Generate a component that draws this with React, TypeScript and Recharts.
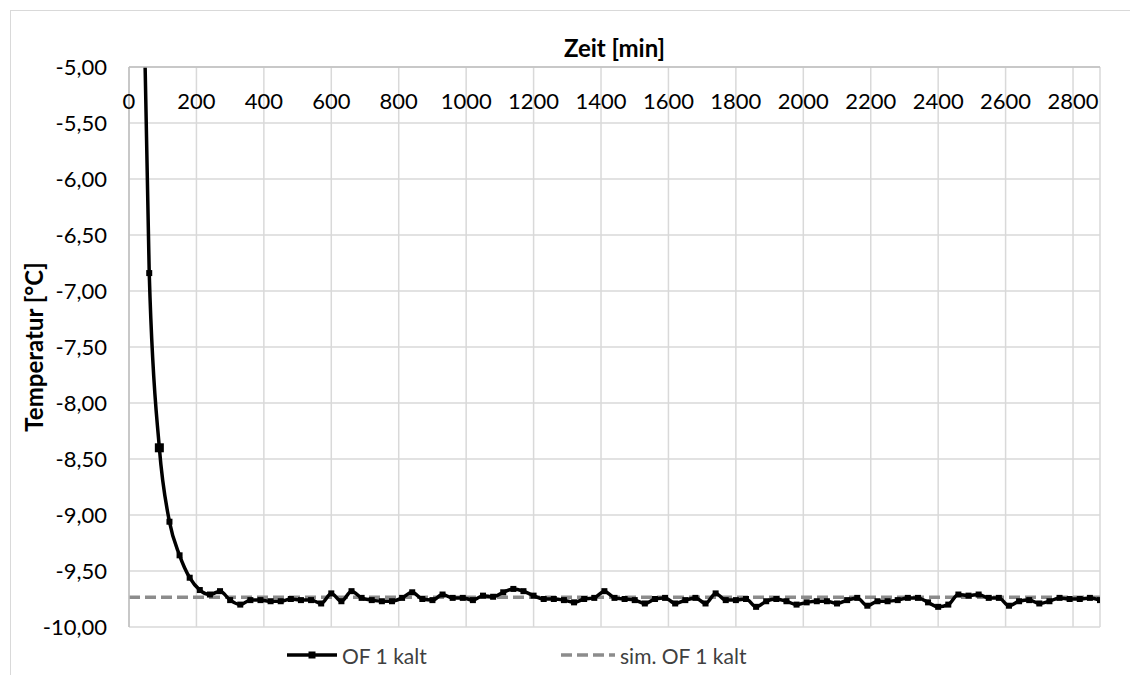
import React from "react";
import { LineChart, Line, XAxis, YAxis, CartesianGrid } from "recharts";

const times = [
  30, 60, 90, 120, 150, 180, 210, 240, 270, 300, 330, 360, 390, 420, 450, 480,
  510, 540, 570, 600, 630, 660, 690, 720, 750, 780, 810, 840, 870, 900, 930, 960,
  990, 1020, 1050, 1080, 1110, 1140, 1170, 1200, 1230, 1260, 1290, 1320, 1350,
  1380, 1410, 1440, 1470, 1500, 1530, 1560, 1590, 1620, 1650, 1680, 1710, 1740,
  1770, 1800, 1830, 1860, 1890, 1920, 1950, 1980, 2010, 2040, 2070, 2100, 2130,
  2160, 2190, 2220, 2250, 2280, 2310, 2340, 2370, 2400, 2430, 2460, 2490, 2520,
  2550, 2580, 2610, 2640, 2670, 2700, 2730, 2760, 2790, 2820, 2850, 2880,
];

const ofKalt = [
  -2.3, -6.84, -8.4, -9.06, -9.36, -9.56, -9.67, -9.71, -9.68, -9.76, -9.8, -9.76,
  -9.76, -9.77, -9.77, -9.75, -9.76, -9.76, -9.79, -9.7, -9.77, -9.68, -9.74,
  -9.76, -9.77, -9.77, -9.74, -9.69, -9.75, -9.76, -9.71, -9.74, -9.74, -9.76,
  -9.72, -9.73, -9.69, -9.66, -9.68, -9.72, -9.75, -9.75, -9.76, -9.78, -9.75,
  -9.74, -9.68, -9.74, -9.75, -9.76, -9.79, -9.75, -9.74, -9.79, -9.76, -9.74,
  -9.79, -9.7, -9.76, -9.76, -9.75, -9.82, -9.77, -9.75, -9.77, -9.8, -9.78,
  -9.77, -9.77, -9.79, -9.76, -9.74, -9.81, -9.77, -9.77, -9.76, -9.74, -9.74,
  -9.78, -9.82, -9.8, -9.71, -9.72, -9.71, -9.74, -9.74, -9.81, -9.77, -9.76,
  -9.79, -9.77, -9.74, -9.75, -9.75, -9.74, -9.76,
];

const simTimes = [0, 2880];
const simValues = [-9.735, -9.735];

const xTicks = [0, 200, 400, 600, 800, 1000, 1200, 1400, 1600, 1800, 2000, 2200, 2400, 2600, 2800];
const yTicks = [-10, -9.5, -9, -8.5, -8, -7.5, -7, -6.5, -6, -5.5, -5];

const seriesName = "OF 1 kalt";
const simName = "sim. OF 1 kalt";
const xTitle = "Zeit [min]";
const yTitle = "Temperatur [°C]";

const measData = times.map((t, i) => ({ t, v: ofKalt[i] }));
const simData = simTimes.map((t, i) => ({ t, v: simValues[i] }));

const FONT = "Lato, 'Open Sans', sans-serif";
const TICK_SIZE = 22;
const TITLE_SIZE = 24;
const LEGEND_SIZE = 21;

const fmt = (v: number) => v.toFixed(2).replace(".", ",");

const XTick = (props: any) => {
  const { x, y, payload } = props;
  return (
    <text x={x} y={y + 34} dy="0.355em" textAnchor="middle" fontFamily={FONT} fontSize={TICK_SIZE} fill="#000">
      {payload.value}
    </text>
  );
};

const SquareDot = (props: any) => {
  const { cx, cy, payload, index } = props;
  if (cx == null || cy == null || payload.v > -5) return <g key={`d${index}`} />;
  const s = payload.t === 90 ? 9 : 6;
  return <rect key={`d${index}`} x={cx - s / 2} y={cy - s / 2} width={s} height={s} fill="#000" />;
};

export default function App() {
  const W = 1130;
  const H = 667;
  return (
    <div style={{ position: "relative", width: W, height: H, background: "#fff" }}>
      <div
        style={{
          position: "absolute",
          left: 2,
          top: 2,
          width: W - 2,
          height: H - 2,
          borderTop: "1px solid #d9d9d9",
          borderLeft: "1px solid #d9d9d9",
          boxSizing: "border-box",
        }}
      />
      <LineChart width={W} height={H} margin={{ top: 0, right: 38, bottom: 48, left: 0 }} style={{ position: "absolute", left: 0, top: 0 }}>
        <CartesianGrid stroke="#d9d9d9" strokeWidth={1.5} vertical horizontal />
        <XAxis
          dataKey="t"
          type="number"
          orientation="top"
          domain={[0, 2880]}
          ticks={xTicks}
          interval={0}
          height={59}
          tickSize={0}
          tickMargin={0}
          tickLine={false}
          axisLine={{ stroke: "#bfbfbf", strokeWidth: 1.5 }}
          tick={<XTick />}
          allowDataOverflow
          label={{
            content: (p: any) => {
              const vb = p.viewBox || { x: 121, width: 971 };
              return (
                <text x={vb.x + vb.width / 2} y={40} dy="0.355em" textAnchor="middle" fontFamily={FONT} fontSize={TITLE_SIZE} fontWeight="bold" fill="#000">
                  {xTitle}
                </text>
              );
            },
          }}
        />
        <YAxis
          dataKey="v"
          type="number"
          domain={[-10, -5]}
          ticks={yTicks}
          interval={0}
          width={121}
          tickSize={0}
          tickMargin={22}
          tickLine={false}
          axisLine={{ stroke: "#bfbfbf", strokeWidth: 1.5 }}
          tickFormatter={fmt}
          tick={{ fontFamily: FONT, fontSize: TICK_SIZE, fill: "#000" }}
          allowDataOverflow
          label={{
            content: (p: any) => {
              const vb = p.viewBox || { y: 59, height: 560 };
              const cy = vb.y + vb.height / 2;
              return (
                <text
                  x={25}
                  y={cy}
                  transform={`rotate(-90 25 ${cy})`}
                  textAnchor="middle"
                  dominantBaseline="central"
                  fontFamily={FONT}
                  fontSize={TITLE_SIZE}
                  fontWeight="bold"
                  fill="#000"
                >
                  {yTitle}
                </text>
              );
            },
          }}
        />
        <Line
          data={simData}
          dataKey="v"
          name={simName}
          type="linear"
          stroke="#8c8c8c"
          strokeWidth={3.5}
          strokeDasharray="11 5"
          dot={false}
          activeDot={false}
          isAnimationActive={false}
        />
        <Line
          data={measData}
          dataKey="v"
          name={seriesName}
          type="monotone"
          stroke="#000"
          strokeWidth={3.5}
          dot={<SquareDot />}
          activeDot={false}
          isAnimationActive={false}
        />
      </LineChart>
      <svg width={W} height={H} style={{ position: "absolute", left: 0, top: 0, pointerEvents: "none" }}>
        <line x1={279} y1={647} x2={329} y2={647} stroke="#000" strokeWidth={3.5} />
        <rect x={300.5} y={643.5} width={7} height={7} fill="#000" />
        <text x={334} y={649} dy="0.355em" fontFamily={FONT} fontSize={LEGEND_SIZE} fill="#404040">
          {seriesName}
        </text>
        <line x1={553} y1={647} x2={607} y2={647} stroke="#8c8c8c" strokeWidth={3.5} strokeDasharray="11 5" />
        <text x={612} y={649} dy="0.355em" fontFamily={FONT} fontSize={LEGEND_SIZE} fill="#404040">
          {simName}
        </text>
      </svg>
    </div>
  );
}
